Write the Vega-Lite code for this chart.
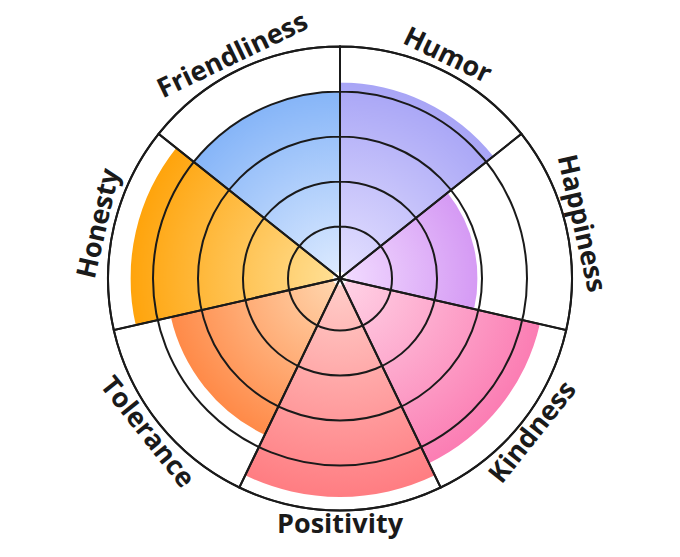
{
  "$schema": "https://vega.github.io/schema/vega-lite/v6.json",
  "width": 680,
  "height": 557,
  "autosize": {"type": "none"},
  "padding": 0,
  "background": "white",
  "config": {"view": {"stroke": null}},
  "datasets": {
    "traits": [
      {"trait": "Humor", "order": 1, "share": 1, "score": 4.2},
      {"trait": "Happiness", "order": 2, "share": 1, "score": 2.9},
      {"trait": "Kindness", "order": 3, "share": 1, "score": 4.4},
      {"trait": "Positivity", "order": 4, "share": 1, "score": 4.7},
      {"trait": "Tolerance", "order": 5, "share": 1, "score": 3.7},
      {"trait": "Honesty", "order": 6, "share": 1, "score": 4.5},
      {"trait": "Friendliness", "order": 7, "share": 1, "score": 4.0}
    ],
    "rings": [{"level": 1}, {"level": 2}, {"level": 3}, {"level": 4}, {"level": 5}]
  },
  "resolve": {"scale": {"radius": "shared", "theta": "shared"}},
  "layer": [
    {
      "data": {"name": "traits"},
      "transform": [
        {"stack": "share", "groupby": [], "sort": [{"field": "order"}], "as": ["a0", "a1"]}
      ],
      "layer": [
        {
          "transform": [{"filter": "datum.trait === 'Humor'"}],
          "mark": {"type": "arc", "stroke": null, "fill": {"gradient": "radial", "x1": 0.109, "y1": 1, "r1": 0, "x2": 0.109, "y2": 1, "r2": 1, "stops": [{"offset": 0, "color": "#E4E0FF"}, {"offset": 1, "color": "#A8A5F6"}]}},
          "encoding": {
            "theta": {"field": "a0", "type": "quantitative", "stack": null, "scale": {"type": "linear", "domain": [0, 7], "range": [0, 6.283185], "zero": false, "nice": false}},
            "theta2": {"field": "a1"},
            "radius": {"field": "score", "type": "quantitative", "stack": null, "scale": {"type": "linear", "domain": [-0.15556, 6.03334], "range": [0, 278.5], "zero": false, "nice": false}}
          }
        },
        {
          "transform": [{"filter": "datum.trait === 'Happiness'"}],
          "mark": {"type": "arc", "stroke": null, "fill": {"gradient": "radial", "x1": 0, "y1": 0.7, "r1": 0, "x2": 0, "y2": 0.7, "r2": 1, "stops": [{"offset": 0, "color": "#F1DAFF"}, {"offset": 1, "color": "#D59AF4"}]}},
          "encoding": {
            "theta": {"field": "a0", "type": "quantitative", "stack": null, "scale": {"type": "linear", "domain": [0, 7], "range": [0, 6.283185], "zero": false, "nice": false}},
            "theta2": {"field": "a1"},
            "radius": {"field": "score", "type": "quantitative", "stack": null, "scale": {"type": "linear", "domain": [-0.15556, 6.03334], "range": [0, 278.5], "zero": false, "nice": false}}
          }
        },
        {
          "transform": [{"filter": "datum.trait === 'Kindness'"}],
          "mark": {"type": "arc", "stroke": null, "fill": {"gradient": "radial", "x1": 0, "y1": 0.038, "r1": 0, "x2": 0, "y2": 0.038, "r2": 1.026, "stops": [{"offset": 0, "color": "#FFD3E6"}, {"offset": 1, "color": "#FB7DB3"}]}},
          "encoding": {
            "theta": {"field": "a0", "type": "quantitative", "stack": null, "scale": {"type": "linear", "domain": [0, 7], "range": [0, 6.283185], "zero": false, "nice": false}},
            "theta2": {"field": "a1"},
            "radius": {"field": "score", "type": "quantitative", "stack": null, "scale": {"type": "linear", "domain": [-0.15556, 6.03334], "range": [0, 278.5], "zero": false, "nice": false}}
          }
        },
        {
          "transform": [{"filter": "datum.trait === 'Positivity'"}],
          "mark": {"type": "arc", "stroke": null, "fill": {"gradient": "radial", "x1": 0.5, "y1": 0, "r1": 0, "x2": 0.5, "y2": 0, "r2": 1, "stops": [{"offset": 0, "color": "#FFCCC8"}, {"offset": 1, "color": "#FF7D82"}]}},
          "encoding": {
            "theta": {"field": "a0", "type": "quantitative", "stack": null, "scale": {"type": "linear", "domain": [0, 7], "range": [0, 6.283185], "zero": false, "nice": false}},
            "theta2": {"field": "a1"},
            "radius": {"field": "score", "type": "quantitative", "stack": null, "scale": {"type": "linear", "domain": [-0.15556, 6.03334], "range": [0, 278.5], "zero": false, "nice": false}}
          }
        },
        {
          "transform": [{"filter": "datum.trait === 'Tolerance'"}],
          "mark": {"type": "arc", "stroke": null, "fill": {"gradient": "radial", "x1": 1, "y1": 0.038, "r1": 0, "x2": 1, "y2": 0.038, "r2": 1.026, "stops": [{"offset": 0, "color": "#FFD6AE"}, {"offset": 1, "color": "#FF8A48"}]}},
          "encoding": {
            "theta": {"field": "a0", "type": "quantitative", "stack": null, "scale": {"type": "linear", "domain": [0, 7], "range": [0, 6.283185], "zero": false, "nice": false}},
            "theta2": {"field": "a1"},
            "radius": {"field": "score", "type": "quantitative", "stack": null, "scale": {"type": "linear", "domain": [-0.15556, 6.03334], "range": [0, 278.5], "zero": false, "nice": false}}
          }
        },
        {
          "transform": [{"filter": "datum.trait === 'Honesty'"}],
          "mark": {"type": "arc", "stroke": null, "fill": {"gradient": "radial", "x1": 1, "y1": 0.7, "r1": 0, "x2": 1, "y2": 0.7, "r2": 1, "stops": [{"offset": 0, "color": "#FFDF94"}, {"offset": 1, "color": "#FFA40C"}]}},
          "encoding": {
            "theta": {"field": "a0", "type": "quantitative", "stack": null, "scale": {"type": "linear", "domain": [0, 7], "range": [0, 6.283185], "zero": false, "nice": false}},
            "theta2": {"field": "a1"},
            "radius": {"field": "score", "type": "quantitative", "stack": null, "scale": {"type": "linear", "domain": [-0.15556, 6.03334], "range": [0, 278.5], "zero": false, "nice": false}}
          }
        },
        {
          "transform": [{"filter": "datum.trait === 'Friendliness'"}],
          "mark": {"type": "arc", "stroke": null, "fill": {"gradient": "radial", "x1": 0.891, "y1": 1, "r1": 0, "x2": 0.891, "y2": 1, "r2": 1, "stops": [{"offset": 0, "color": "#DCEAFF"}, {"offset": 1, "color": "#86B5F8"}]}},
          "encoding": {
            "theta": {"field": "a0", "type": "quantitative", "stack": null, "scale": {"type": "linear", "domain": [0, 7], "range": [0, 6.283185], "zero": false, "nice": false}},
            "theta2": {"field": "a1"},
            "radius": {"field": "score", "type": "quantitative", "stack": null, "scale": {"type": "linear", "domain": [-0.15556, 6.03334], "range": [0, 278.5], "zero": false, "nice": false}}
          }
        },
        {
          "mark": {"type": "arc", "fill": null, "filled": false, "stroke": "#1a1a1a", "strokeWidth": 2},
          "encoding": {
            "theta": {"field": "a0", "type": "quantitative", "stack": null, "scale": {"type": "linear", "domain": [0, 7], "range": [0, 6.283185], "zero": false, "nice": false}},
            "theta2": {"field": "a1"},
            "radius": {"datum": 5, "type": "quantitative", "stack": null, "scale": {"type": "linear", "domain": [-0.15556, 6.03334], "range": [0, 278.5], "zero": false, "nice": false}},
            "radius2": {"datum": -0.15556}
          }
        },
        {
          "transform": [{"filter": "datum.trait === 'Humor'"}],
          "mark": {"type": "text", "font": "Open Sans", "fontWeight": "bold", "fontSize": 27, "color": "#1a1a1a", "align": "center", "baseline": "middle", "angle": 25.71, "thetaOffset": 0.448799, "radiusOffset": 15},
          "encoding": {
            "theta": {"field": "a0", "type": "quantitative", "stack": null, "scale": {"type": "linear", "domain": [0, 7], "range": [0, 6.283185], "zero": false, "nice": false}},
            "radius": {"datum": 5, "type": "quantitative", "scale": {"type": "linear", "domain": [-0.15556, 6.03334], "range": [0, 278.5], "zero": false, "nice": false}},
            "text": {"field": "trait"}
          }
        },
        {
          "transform": [{"filter": "datum.trait === 'Happiness'"}],
          "mark": {"type": "text", "font": "Open Sans", "fontWeight": "bold", "fontSize": 27, "color": "#1a1a1a", "align": "center", "baseline": "middle", "angle": 77.14, "thetaOffset": 0.448799, "radiusOffset": 15},
          "encoding": {
            "theta": {"field": "a0", "type": "quantitative", "stack": null, "scale": {"type": "linear", "domain": [0, 7], "range": [0, 6.283185], "zero": false, "nice": false}},
            "radius": {"datum": 5, "type": "quantitative", "scale": {"type": "linear", "domain": [-0.15556, 6.03334], "range": [0, 278.5], "zero": false, "nice": false}},
            "text": {"field": "trait"}
          }
        },
        {
          "transform": [{"filter": "datum.trait === 'Kindness'"}],
          "mark": {"type": "text", "font": "Open Sans", "fontWeight": "bold", "fontSize": 27, "color": "#1a1a1a", "align": "center", "baseline": "middle", "angle": -51.43, "thetaOffset": 0.448799, "radiusOffset": 15},
          "encoding": {
            "theta": {"field": "a0", "type": "quantitative", "stack": null, "scale": {"type": "linear", "domain": [0, 7], "range": [0, 6.283185], "zero": false, "nice": false}},
            "radius": {"datum": 5, "type": "quantitative", "scale": {"type": "linear", "domain": [-0.15556, 6.03334], "range": [0, 278.5], "zero": false, "nice": false}},
            "text": {"field": "trait"}
          }
        },
        {
          "transform": [{"filter": "datum.trait === 'Positivity'"}],
          "mark": {"type": "text", "font": "Open Sans", "fontWeight": "bold", "fontSize": 27, "color": "#1a1a1a", "align": "center", "baseline": "middle", "angle": 0, "thetaOffset": 0.448799, "radiusOffset": 15},
          "encoding": {
            "theta": {"field": "a0", "type": "quantitative", "stack": null, "scale": {"type": "linear", "domain": [0, 7], "range": [0, 6.283185], "zero": false, "nice": false}},
            "radius": {"datum": 5, "type": "quantitative", "scale": {"type": "linear", "domain": [-0.15556, 6.03334], "range": [0, 278.5], "zero": false, "nice": false}},
            "text": {"field": "trait"}
          }
        },
        {
          "transform": [{"filter": "datum.trait === 'Tolerance'"}],
          "mark": {"type": "text", "font": "Open Sans", "fontWeight": "bold", "fontSize": 27, "color": "#1a1a1a", "align": "center", "baseline": "middle", "angle": 51.43, "thetaOffset": 0.448799, "radiusOffset": 15},
          "encoding": {
            "theta": {"field": "a0", "type": "quantitative", "stack": null, "scale": {"type": "linear", "domain": [0, 7], "range": [0, 6.283185], "zero": false, "nice": false}},
            "radius": {"datum": 5, "type": "quantitative", "scale": {"type": "linear", "domain": [-0.15556, 6.03334], "range": [0, 278.5], "zero": false, "nice": false}},
            "text": {"field": "trait"}
          }
        },
        {
          "transform": [{"filter": "datum.trait === 'Honesty'"}],
          "mark": {"type": "text", "font": "Open Sans", "fontWeight": "bold", "fontSize": 27, "color": "#1a1a1a", "align": "center", "baseline": "middle", "angle": -77.14, "thetaOffset": 0.448799, "radiusOffset": 15},
          "encoding": {
            "theta": {"field": "a0", "type": "quantitative", "stack": null, "scale": {"type": "linear", "domain": [0, 7], "range": [0, 6.283185], "zero": false, "nice": false}},
            "radius": {"datum": 5, "type": "quantitative", "scale": {"type": "linear", "domain": [-0.15556, 6.03334], "range": [0, 278.5], "zero": false, "nice": false}},
            "text": {"field": "trait"}
          }
        },
        {
          "transform": [{"filter": "datum.trait === 'Friendliness'"}],
          "mark": {"type": "text", "font": "Open Sans", "fontWeight": "bold", "fontSize": 27, "color": "#1a1a1a", "align": "center", "baseline": "middle", "angle": -25.71, "thetaOffset": 0.448799, "radiusOffset": 15},
          "encoding": {
            "theta": {"field": "a0", "type": "quantitative", "stack": null, "scale": {"type": "linear", "domain": [0, 7], "range": [0, 6.283185], "zero": false, "nice": false}},
            "radius": {"datum": 5, "type": "quantitative", "scale": {"type": "linear", "domain": [-0.15556, 6.03334], "range": [0, 278.5], "zero": false, "nice": false}},
            "text": {"field": "trait"}
          }
        }
      ]
    },
    {
      "data": {"name": "rings"},
      "mark": {"type": "arc", "theta": 0, "theta2": 6.283185, "fill": null, "filled": false, "stroke": "#1a1a1a", "strokeWidth": 2},
      "encoding": {
        "radius": {"field": "level", "type": "quantitative", "stack": null, "scale": {"type": "linear", "domain": [-0.15556, 6.03334], "range": [0, 278.5], "zero": false, "nice": false}},
        "radius2": {"datum": -0.15556}
      }
    }
  ]
}
